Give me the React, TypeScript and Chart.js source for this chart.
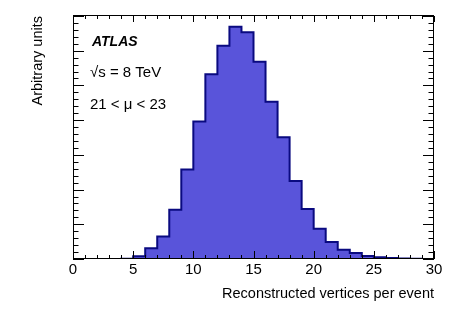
import { useEffect, useRef } from 'react';
import { Chart, registerables } from 'chart.js';

Chart.register(...registerables);

// Histogram: bin low edges and contents (arbitrary units)
const binLowEdges = [0, 1, 2, 3, 4, 5, 6, 7, 8, 9, 10, 11, 12, 13, 14, 15, 16, 17, 18, 19, 20, 21, 22, 23, 24, 25, 26, 27, 28, 29];
const binContents = [0, 0, 0, 0, 0.005, 0.08, 0.31, 0.65, 1.42, 2.58, 3.96, 5.32, 6.14, 6.69, 6.53, 5.68, 4.53, 3.51, 2.25, 1.44, 0.87, 0.49, 0.27, 0.17, 0.09, 0.05, 0.03, 0.015, 0.005, 0];
const histUpperEdge = 30;

const xTickLabels = [0, 5, 10, 15, 20, 25, 30];
const yMajorTicks = [0, 1, 2, 3, 4, 5, 6, 7];

const xTitle = 'Reconstructed vertices per event';
const yTitle = 'Arbitrary units';
const annotations = ['ATLAS', '√s = 8 TeV', '21 < μ < 23'];

const FONT = '"Liberation Sans", Arial, Helvetica, sans-serif';

const atlasPlugin = {
  id: 'atlasFrame',
  afterDatasetsDraw(chart: any) {
    const { ctx, chartArea, scales } = chart;
    const { left, right, top, bottom } = chartArea;
    const x = scales.x;
    const y = scales.y;
    ctx.save();
    ctx.strokeStyle = '#000';
    ctx.lineWidth = 1;
    // frame
    ctx.strokeRect(Math.round(left) + 0.5, Math.round(top) - 0.5, Math.round(right - left) - 1, Math.round(bottom - top));
    // x ticks
    ctx.beginPath();
    for (let v = x.min; v <= x.max + 1e-9; v += 1) {
      const px = Math.round(x.getPixelForValue(v)) + 0.5;
      const major = xTickLabels.includes(Math.round(v));
      const lb = major ? 8 : 4;
      const lt = major ? 6 : 3;
      ctx.moveTo(px, bottom);
      ctx.lineTo(px, bottom - lb);
      ctx.moveTo(px, top);
      ctx.lineTo(px, top + lt);
    }
    // y ticks
    for (let i = 0; i <= Math.round((y.max - y.min) / 0.2); i++) {
      const v = y.min + i * 0.2;
      const py = Math.round(y.getPixelForValue(v)) + 0.5;
      const major = yMajorTicks.some((t) => Math.abs(t - v) < 1e-6);
      const l = major ? 11 : 5.5;
      ctx.moveTo(left, py);
      ctx.lineTo(left + l, py);
      ctx.moveTo(right, py);
      ctx.lineTo(right - l, py);
    }
    ctx.stroke();

    // x tick labels
    ctx.fillStyle = '#000';
    ctx.font = `15px ${FONT}`;
    ctx.textAlign = 'center';
    ctx.textBaseline = 'alphabetic';
    xTickLabels.forEach((t) => {
      ctx.fillText(String(t), x.getPixelForValue(t), 274);
    });

    // axis titles
    ctx.font = `14.5px ${FONT}`;
    ctx.textAlign = 'right';
    ctx.fillText(xTitle, right, 298);
    ctx.save();
    ctx.translate(42, top);
    ctx.rotate(-Math.PI / 2);
    ctx.textAlign = 'right';
    ctx.fillText(yTitle, 0, 0);
    ctx.restore();

    // annotations
    ctx.textAlign = 'left';
    ctx.font = `italic bold 14px ${FONT}`;
    ctx.fillText(annotations[0], 92, 45.5);
    ctx.font = `15px ${FONT}`;
    ctx.fillText(annotations[1], 90, 76.5);
    ctx.fillText(annotations[2], 90, 109);
    ctx.restore();
  },
};

export default function App() {
  const canvasRef = useRef<HTMLCanvasElement | null>(null);

  useEffect(() => {
    if (!canvasRef.current) return;
    const points = binLowEdges.map((e, i) => ({ x: e, y: binContents[i] }));
    points.push({ x: histUpperEdge, y: 0 });
    const chart = new Chart(canvasRef.current, {
      type: 'line',
      data: {
        datasets: [
          {
            data: points,
            stepped: 'before',
            fill: 'origin',
            backgroundColor: '#5954da',
            borderColor: '#0a0a80',
            borderWidth: 2,
            pointRadius: 0,
            tension: 0,
          } as any,
        ],
      },
      options: {
        animation: false,
        responsive: false,
        devicePixelRatio: 1,
        layout: { padding: { left: 73, right: 23, top: 16, bottom: 50 } },
        plugins: { legend: { display: false }, tooltip: { enabled: false } },
        scales: {
          x: { type: 'linear', min: 0, max: 30, display: false },
          y: { type: 'linear', min: 0, max: 7, display: false },
        },
      },
      plugins: [atlasPlugin],
    });
    return () => chart.destroy();
  }, []);

  return (
    <div style={{ position: 'fixed', left: 0, top: 0, width: 457, height: 309, background: '#fff' }}>
      <canvas ref={canvasRef} width={457} height={309} style={{ width: 457, height: 309 }} />
    </div>
  );
}
